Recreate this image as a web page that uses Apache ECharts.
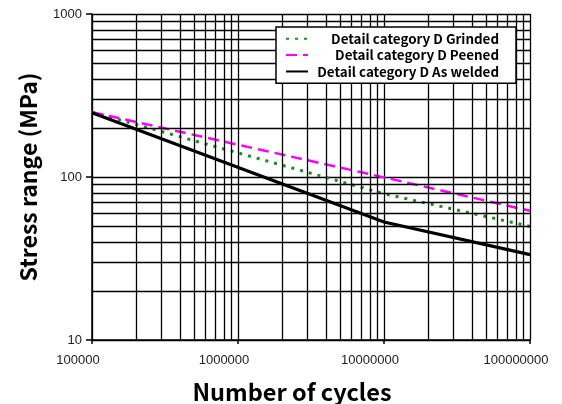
<!DOCTYPE html>
<html><head><meta charset="utf-8">
<script src="https://cdn.jsdelivr.net/npm/echarts@6/dist/echarts.min.js"></script>
<style>html,body{margin:0;padding:0;background:#fff}#c{width:562px;height:404px}</style>
</head><body><div id="c"></div>
<script>
var cycles = [100000, 10000000, 100000000];
var grinded = [250, 79, 49.8];
var peened = [250, 99.5, 62];
var asWelded = [248, 53, 33.4];
var seriesNames = ['Detail category D Grinded', 'Detail category D Peened', 'Detail category D As welded'];
var xGrid = [2e5,3e5,4e5,5e5,6e5,7e5,8e5,9e5,2e6,3e6,4e6,5e6,6e6,7e6,8e6,9e6,2e7,3e7,4e7,5e7,6e7,7e7,8e7,9e7];
var yGrid = [20,30,40,50,60,70,80,90,200,300,400,500,600,700,800,900];

function pts(ys){ return cycles.map(function(x,i){ return [x, ys[i]]; }); }
var chart = echarts.init(document.getElementById('c'), null, {renderer:'canvas'});
var gridMarks = xGrid.map(function(v){ return {xAxis:v}; }).concat(yGrid.map(function(v){ return {yAxis:v}; }));
chart.setOption({
  animation:false,
  backgroundColor:'#fff',
  grid:{left:92, right:32, top:14, bottom:64, outerBoundsMode:'none', containLabel:false},
  xAxis:{type:'log', logBase:10, min:100000, max:100000000,
    name:'Number of cycles', nameLocation:'middle', nameGap:40,
    nameTextStyle:{fontFamily:'Noto Sans CJK KR', fontWeight:'bold', fontSize:23.5, color:'#000', padding:[0,38,0,0]},
    axisLine:{lineStyle:{color:'#000', width:1.5}},
    axisTick:{show:true, length:4, lineStyle:{color:'#000', width:1.5}},
    axisLabel:{color:'#222', fontFamily:'Liberation Sans', fontSize:13, margin:14, padding:[0,28,0,0],
      formatter:function(v){ return String(Math.round(v)); }},
    splitLine:{show:true, lineStyle:{color:'#000', width:1.3}}
  },
  yAxis:{type:'log', logBase:10, min:10, max:1000,
    name:'Stress range (MPa)', nameLocation:'middle', nameGap:52,
    nameTextStyle:{fontFamily:'Noto Sans CJK KR', fontWeight:'bold', fontSize:23, color:'#000'},
    axisLine:{show:true, lineStyle:{color:'#000', width:1.5}},
    axisTick:{show:true, length:6, lineStyle:{color:'#000', width:1.5}},
    axisLabel:{color:'#222', fontFamily:'Liberation Sans', fontSize:13, margin:10,
      formatter:function(v){ return String(Math.round(v)); }},
    splitLine:{show:true, lineStyle:{color:'#000', width:1.3}}
  },
  legend:{left:276, top:27, z:50, orient:'vertical', itemGap:3, itemWidth:22, itemHeight:13,
    backgroundColor:'#fff', borderColor:'#000', borderWidth:1.5, padding:[5,17,5,9],
    itemStyle:{opacity:0},
    data:seriesNames,
    formatter:function(n){ return '{t|'+n+'}'; },
    textStyle:{rich:{t:{width:186, align:'right', fontFamily:'Noto Sans CJK KR', fontWeight:'bold', fontSize:13.4, color:'#000', lineHeight:13}}}
  },
  series:[
    {name:'grid', type:'line', data:[], silent:true, z:1,
      markLine:{silent:true, symbol:'none', label:{show:false}, animation:false,
        lineStyle:{color:'#000', width:1.3, type:'solid'}, emphasis:{disabled:true}, data:gridMarks}},
    {name:seriesNames[0], type:'line', data:pts(grinded), symbol:'none', z:3, color:'#1f8a1f',
      lineStyle:{color:'#1f8a1f', width:3, type:[3,6]}},
    {name:seriesNames[1], type:'line', data:pts(peened), symbol:'none', z:4, color:'#ff00ff',
      lineStyle:{color:'#ff00ff', width:2.5, type:[11,6]}},
    {name:seriesNames[2], type:'line', data:pts(asWelded), symbol:'none', z:5, color:'#000',
      lineStyle:{color:'#000', width:3.2}}
  ]
});
</script></body></html>
